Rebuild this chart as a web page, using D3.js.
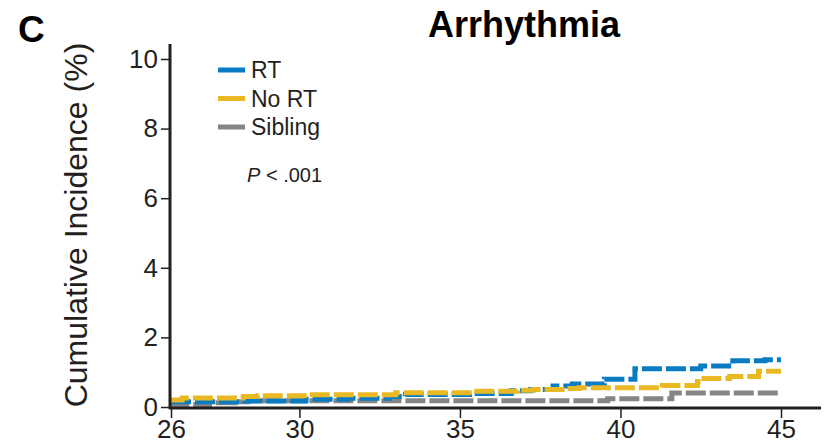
<!DOCTYPE html>
<html>
<head>
<meta charset="utf-8">
<script src="https://cdn.jsdelivr.net/npm/d3@7"></script>
<style>
  html, body { margin: 0; padding: 0; background: #fff; }
  svg { display: block; }
</style>
</head>
<body>
<script>
// Cumulative incidence of arrhythmia by attained age (step functions)
const ageTicks = [26, 30, 35, 40, 45];
const incidenceTicks = [0, 2, 4, 6, 8, 10];

const rtAges    = [26, 28.2, 30.2, 31.5, 32.8, 33.3, 35.3, 36.6, 37.2, 37.9, 38.5, 39.5, 40.45, 42.5, 43.5, 44.5, 45];
const rtValues  = [0.15, 0.17, 0.22, 0.25, 0.30, 0.36, 0.39, 0.47, 0.50, 0.60, 0.66, 0.80, 1.10, 1.18, 1.33, 1.36, 1.36];

const noRtAges   = [26, 26.35, 28.25, 28.7, 30.3, 33.0, 35.4, 36.8, 37.3, 38.3, 38.7, 41.3, 42.4, 42.6, 43.4, 44.3, 45];
const noRtValues = [0.20, 0.26, 0.30, 0.32, 0.35, 0.41, 0.45, 0.48, 0.50, 0.53, 0.55, 0.62, 0.73, 0.82, 0.88, 1.03, 1.03];

const sibAges   = [26, 26.4, 27.2, 28.0, 28.4, 39.6, 41.6, 45];
const sibValues = [0.02, 0.07, 0.12, 0.15, 0.18, 0.24, 0.40, 0.40];

const seriesNames  = ["RT", "No RT", "Sibling"];
const seriesColors = ["#0a7cc4", "#e8b923", "#858585"];

const W = 829, H = 445;
const FONT = "Liberation Sans, Arial, Helvetica, sans-serif";
const svg = d3.select("body").append("svg").attr("width", W).attr("height", H);

const x = d3.scaleLinear().domain([26, 45]).range([171, 781]);
const y = d3.scaleLinear().domain([0, 10]).range([407, 59]);

const ink = "#231f20";

// panel letter and title
svg.append("text").attr("x", 18).attr("y", 42)
  .attr("font-family", FONT)
  .attr("font-weight", "bold").attr("font-size", 37).attr("fill", "#000").text("C");
svg.append("text").attr("x", 524).attr("y", 37).attr("text-anchor", "middle")
  .attr("font-family", FONT)
  .attr("font-weight", "bold").attr("font-size", 36).attr("fill", "#000").text("Arrhythmia");

// y-axis title
svg.append("text")
  .attr("transform", "translate(87,225) rotate(-90)")
  .attr("text-anchor", "middle")
  .attr("font-family", FONT)
  .attr("font-size", 32).attr("fill", ink)
  .text("Cumulative Incidence (%)");

// step curves
const series = [
  { ages: sibAges, values: sibValues, color: seriesColors[2] },
  { ages: rtAges, values: rtValues, color: seriesColors[0] },
  { ages: noRtAges, values: noRtValues, color: seriesColors[1] }
];
const line = d3.line().x(d => x(d[0])).y(d => y(d[1])).curve(d3.curveStepAfter);
series.forEach(s => {
  const pts = s.ages.map((a, i) => [a, s.values[i]]);
  svg.append("path").datum(pts)
    .attr("d", line)
    .attr("fill", "none")
    .attr("stroke", s.color)
    .attr("stroke-width", 5)
    .attr("stroke-dasharray", "20,4");
});

// axes
const yAxis = d3.axisLeft(y).tickValues(incidenceTicks).tickSize(9).tickPadding(3).tickFormat(d3.format("d"));
const gy = svg.append("g").attr("transform", "translate(170,0)").call(yAxis);
const xAxis = d3.axisBottom(x).tickValues(ageTicks).tickSize(10).tickPadding(1).tickFormat(d3.format("d"));
const gx = svg.append("g").attr("transform", "translate(0,408)").call(xAxis);

[gy, gx].forEach(g => {
  g.select(".domain").remove();
  g.selectAll(".tick line").attr("stroke", ink).attr("stroke-width", 1.5);
  g.selectAll(".tick text").attr("font-family", FONT)
    .attr("font-size", 26).attr("fill", ink);
});
gx.selectAll(".tick text").attr("dy", "0.72em");

svg.append("line").attr("x1", 170).attr("x2", 170).attr("y1", 44).attr("y2", 409)
  .attr("stroke", ink).attr("stroke-width", 3);
svg.append("line").attr("x1", 169).attr("x2", 821).attr("y1", 408).attr("y2", 408)
  .attr("stroke", ink).attr("stroke-width", 3);

// legend
const legend = svg.append("g");
seriesNames.forEach((name, i) => {
  const ly = 70 + i * 28.5;
  legend.append("line").attr("x1", 218).attr("x2", 245).attr("y1", ly).attr("y2", ly)
    .attr("stroke", seriesColors[i]).attr("stroke-width", 5);
  legend.append("text").attr("font-family", FONT).attr("x", 251).attr("y", ly)
    .attr("dy", "0.36em").attr("font-size", 23).attr("fill", ink).text(name);
});
const pt = legend.append("text").attr("font-family", FONT).attr("x", 247).attr("y", 182)
  .attr("font-size", 20).attr("fill", ink);
pt.append("tspan").attr("font-style", "italic").text("P");
pt.append("tspan").text(" < .001");
</script>
</body>
</html>
